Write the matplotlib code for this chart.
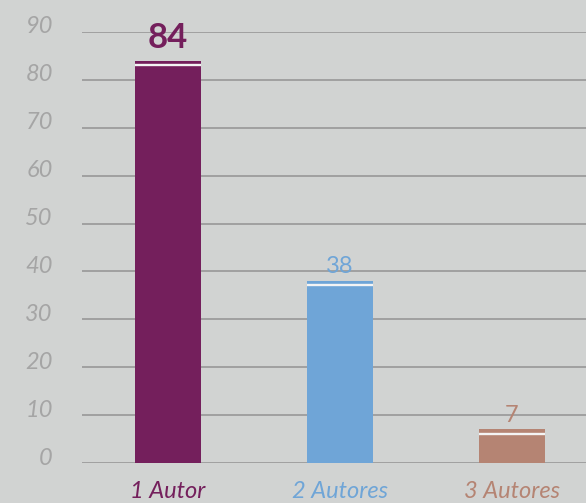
import numpy as np
import matplotlib.pyplot as plt
import matplotlib.transforms as mtransforms

# data
categories = ["1 Autor", "2 Autores", "3 Autores"]
values = [84, 38, 7]
bar_colors = ["#741f5c", "#6fa5d7", "#b58473"]
yticks = [0, 10, 20, 30, 40, 50, 60, 70, 80, 90]

BG = "#d1d3d2"
GRID = "#a0a0a0"

plt.rcParams["font.family"] = ["Lato", "DejaVu Sans"]

fig = plt.figure(figsize=(5.86, 5.03), dpi=100, facecolor=BG)
ax = fig.add_axes([0.14, 0.0795, 0.86, 0.857], facecolor=BG)

x = np.arange(len(categories))
width = 0.38

# grid lines behind bars
for t in yticks:
    ax.axhline(t, color=GRID, linewidth=1.4, zorder=0)

ax.bar(x, values, width=width, color=bar_colors, zorder=2)
# white cut just under the top of each bar
for xi, v in zip(x, values):
    ax.plot([xi - width / 2, xi + width / 2], [v - 0.9, v - 0.9],
            color="#f4f4f4", linewidth=1.7, zorder=3, solid_capstyle="butt")

# value labels
for xi, v, c in zip(x, values, bar_colors):
    if v == max(values):
        ax.text(xi, v + 2.6, str(v), ha="center", va="baseline",
                fontsize=25, fontweight="bold", color=c)
    else:
        ax.text(xi, v + 1.6, str(v), ha="center", va="baseline",
                fontsize=17, color=c)

ax.set_xlim(-0.5, 2.43)
ax.set_ylim(0, 90)
ax.set_yticks(yticks)
ax.set_yticklabels([str(t) for t in yticks], fontsize=17, style="italic",
                   color="#a5a5a5")
ax.set_xticks(x)
ax.set_xticklabels(categories, fontsize=17, style="italic")
for lbl, c in zip(ax.get_xticklabels(), bar_colors):
    lbl.set_color(c)

ax.tick_params(axis="y", length=0, pad=21)
ax.tick_params(axis="x", length=0, pad=13)
offset = mtransforms.ScaledTranslation(0, 7 / 100, fig.dpi_scale_trans)
for lbl in ax.get_yticklabels():
    lbl.set_transform(lbl.get_transform() + offset)

for s in ax.spines.values():
    s.set_visible(False)

plt.savefig("out.png", dpi=100, facecolor=BG)
